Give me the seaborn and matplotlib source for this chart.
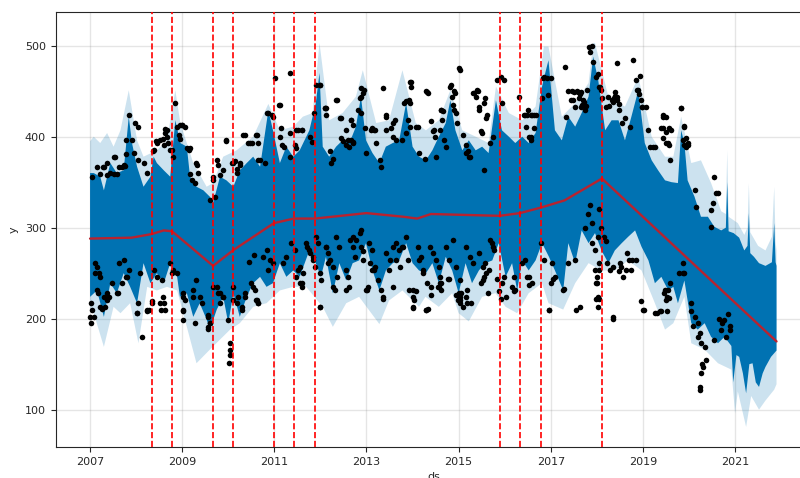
import numpy as np
import pandas as pd
import seaborn as sns
import matplotlib.pyplot as plt

# upper / lower edge of the forecast (yhat)
yhat_hi_ds = [2007.00, 2007.08, 2007.22, 2007.30, 2007.44, 2007.58, 2007.73, 2007.84, 2007.91, 2008.02,
              2008.16, 2008.31, 2008.38, 2008.45, 2008.60, 2008.74, 2008.85, 2008.96,
              2009.10, 2009.17, 2009.31, 2009.46, 2009.60, 2009.67, 2009.82, 2009.96, 2010.11, 2010.25,
              2010.40, 2010.54, 2010.69, 2010.87, 2010.97, 2011.12, 2011.26, 2011.41, 2011.55,
              2011.76, 2011.90, 2011.98, 2012.05, 2012.19, 2012.34, 2012.48, 2012.63, 2012.77, 2012.88,
              2012.99, 2013.13, 2013.28, 2013.42, 2013.57, 2013.71, 2013.86, 2014.00, 2014.14, 2014.29,
              2014.43, 2014.57, 2014.72, 2014.82, 2014.93, 2015.08, 2015.22, 2015.37, 2015.51, 2015.65,
              2015.81, 2015.94, 2016.09, 2016.23, 2016.38, 2016.52, 2016.67, 2016.81, 2016.88, 2016.95,
              2017.09, 2017.24, 2017.38, 2017.53, 2017.67, 2017.82, 2017.92, 2018.03, 2018.18, 2018.32,
              2018.47, 2018.61, 2018.75, 2018.90, 2019.04, 2019.19, 2019.33, 2019.48, 2019.62,
              2019.76, 2019.83, 2019.90, 2019.97, 2020.12, 2020.26, 2020.41,
              2020.55, 2020.70, 2020.80, 2020.83, 2020.86, 2020.97, 2021.09, 2021.20, 2021.27, 2021.30,
              2021.33, 2021.41, 2021.52, 2021.66, 2021.80, 2021.85, 2021.88, 2021.90]
yhat_hi = [360, 360, 356, 341, 371, 360, 363, 422, 393, 367,
           345, 356, 378, 371, 363, 356, 418, 393,
           389, 356, 345, 341, 334, 327, 356, 352, 345, 363,
           371, 378, 367, 429, 407, 371, 389, 378, 385,
           407, 437, 470, 389, 378, 389, 396, 393, 411, 444,
           396, 382, 371, 389, 393, 396, 437, 389, 378, 374,
           385, 400, 415, 440, 407, 385, 396, 385, 389, 382,
           440, 407, 400, 393, 400, 393, 404, 455, 470, 484,
           407, 396, 422, 411, 426, 444, 488, 462, 407, 418,
           418, 396, 422, 451, 393, 374, 363, 352, 350,
           349, 407, 393, 352, 334, 312, 312,
           301, 297, 300, 350, 296, 294, 289, 275, 280, 316,
           272, 268, 261, 258, 262, 305, 262, 258]

yhat_lo_ds = [2007.00, 2007.15, 2007.30, 2007.44, 2007.58, 2007.73, 2007.87, 2008.02, 2008.16, 2008.31,
              2008.45, 2008.60, 2008.74, 2008.89,
              2008.95, 2009.10, 2009.24, 2009.38, 2009.53, 2009.60, 2009.75, 2009.89, 2010.00, 2010.11,
              2010.25, 2010.40, 2010.54, 2010.69, 2010.83, 2010.97, 2011.12, 2011.26, 2011.41, 2011.55,
              2011.76, 2011.90, 2012.01, 2012.12, 2012.27, 2012.41, 2012.56, 2012.70, 2012.84, 2012.99,
              2013.13, 2013.28, 2013.42, 2013.57, 2013.71, 2013.86, 2014.00, 2014.14, 2014.29,
              2014.43, 2014.57, 2014.72, 2014.86, 2015.00, 2015.15, 2015.29, 2015.44, 2015.58, 2015.73,
              2015.87, 2016.02, 2016.16, 2016.27, 2016.38, 2016.52, 2016.67, 2016.81, 2016.96,
              2017.09, 2017.27, 2017.38, 2017.53, 2017.67, 2017.82, 2017.96, 2018.10, 2018.25, 2018.39,
              2018.54, 2018.68, 2018.83, 2018.97, 2019.12, 2019.26, 2019.40, 2019.55, 2019.66,
              2019.76, 2019.90, 2020.05, 2020.19, 2020.34, 2020.48, 2020.63, 2020.77,
              2020.92, 2020.96, 2021.03, 2021.09, 2021.17, 2021.24, 2021.31, 2021.38, 2021.45, 2021.52,
              2021.60, 2021.66, 2021.78, 2021.90]
yhat_lo = [224, 231, 202, 239, 228, 250, 235, 217, 261, 239,
           250, 239, 261, 246,
           224, 228, 202, 217, 199, 188, 210, 224, 195, 228,
           202, 224, 239, 246, 235, 239, 261, 246, 253, 246,
           275, 261, 246, 268, 228, 261, 242, 261, 264, 283,
           253, 231, 253, 261, 264, 283, 261, 253, 250,
           261, 239, 268, 253, 228, 261, 239, 253, 261, 264,
           283, 246, 261, 231, 264, 253, 264, 283, 268,
           253, 231, 283, 261, 297, 283, 294, 275, 261, 275,
           283, 290, 297, 279, 264, 239, 246, 231, 235,
           217, 242, 195, 188, 195, 180, 173, 180,
           170, 130, 160, 158, 140, 118, 150, 151, 130, 125,
           140, 147, 158, 165]

# upper / lower edge of the uncertainty interval
band_hi_ds = [2007.00, 2007.08, 2007.22, 2007.37, 2007.51, 2007.66, 2007.84, 2008.02, 2008.16, 2008.45,
              2008.67, 2008.85, 2008.96,
              2009.24, 2009.53, 2009.67, 2009.89, 2010.18, 2010.54, 2010.87, 2011.12, 2011.41, 2011.62,
              2011.83, 2011.98, 2012.19, 2012.48, 2012.77, 2012.92, 2013.21, 2013.49, 2013.78, 2014.07,
              2014.29, 2014.57, 2014.82, 2015.08, 2015.37, 2015.65, 2015.81, 2016.09, 2016.38, 2016.67,
              2016.85, 2016.95, 2017.24, 2017.53, 2017.82, 2017.92, 2017.96, 2018.25, 2018.61, 2018.90,
              2019.19, 2019.48, 2019.66, 2019.83, 2020.05, 2020.26, 2020.48,
              2020.70, 2020.80, 2020.83, 2020.86, 2021.06, 2021.20, 2021.27, 2021.30, 2021.33, 2021.50,
              2021.66, 2021.80, 2021.85, 2021.88, 2021.90]
band_hi = [395, 400, 393, 404, 389, 407, 451, 396, 378, 385,
           396, 451, 415,
           371, 345, 349, 378, 385, 400, 436, 407, 411, 422,
           426, 503, 418, 426, 444, 473, 415, 418, 473, 415,
           407, 418, 451, 407, 400, 393, 455, 426, 418, 433,
           499, 499, 422, 437, 459, 503, 503, 444, 433, 466,
           400, 378, 378, 422, 371, 374, 349,
           318, 315, 385, 312, 305, 292, 300, 349, 295, 280,
           275, 290, 345, 285, 275]

band_lo_ds = [2007.00, 2007.08, 2007.30, 2007.51, 2007.66, 2007.87, 2008.05, 2008.24, 2008.45, 2008.67,
              2008.89,
              2009.31, 2009.60, 2010.04, 2010.25, 2010.54, 2010.83, 2011.12, 2011.41,
              2011.69, 2012.05, 2012.27, 2012.56, 2012.84, 2013.28, 2013.49, 2013.78, 2014.14,
              2014.28, 2014.57, 2014.86, 2015.00, 2015.22, 2015.51, 2015.80, 2016.02, 2016.27, 2016.52,
              2016.81, 2016.95, 2017.27, 2017.53, 2017.82, 2018.10, 2018.39, 2018.68, 2018.97, 2019.26,
              2019.48, 2019.66, 2019.90, 2020.05, 2020.34, 2020.63,
              2020.92, 2021.00, 2021.06, 2021.24, 2021.35, 2021.52, 2021.66, 2021.85, 2021.90]
band_lo = [210, 206, 169, 213, 206, 217, 173, 235, 231, 235,
           231,
           151, 166, 188, 195, 213, 217, 231, 235,
           235, 213, 191, 217, 224, 194, 220, 231, 213,
           224, 213, 228, 206, 197, 224, 228, 213, 206, 228,
           239, 217, 210, 239, 261, 253, 253, 264, 253, 217,
           188, 195, 224, 173, 166, 151,
           144, 96, 120, 81, 115, 100, 110, 122, 128]

# piecewise linear trend and the changepoints shown as dashed lines
trend_ds = [2007.00, 2007.90, 2008.34, 2008.60, 2008.78, 2009.67, 2010.10, 2010.99, 2011.42, 2011.88,
            2013.00, 2013.80, 2014.10, 2014.40, 2015.89, 2016.33, 2016.78, 2017.30, 2018.11, 2021.90]
trend = [288, 289, 293, 297, 296, 258, 275, 305, 310, 310,
         316, 312, 310, 315, 313, 316, 322, 330, 354, 175]
changepoints = [2008.34, 2008.78, 2009.67, 2010.10, 2010.99, 2011.42, 2011.88,
                2015.89, 2016.33, 2016.78, 2018.11]

# observed points that are visible outside the forecast band
obs_ds = [
    2007.04, 2007.15, 2007.30, 2007.37, 2007.51, 2007.44, 2007.62, 2007.73, 2007.84, 2007.98,
    2008.05, 2007.91, 2007.95, 2008.05, 2008.16, 2008.24, 2008.38, 2008.45, 2008.52, 2008.60,
    2008.63, 2008.67, 2008.78, 2008.85, 2008.81,
    2007.01, 2007.01, 2007.08, 2007.11, 2007.19, 2007.22, 2007.30, 2007.37, 2007.33, 2007.48,
    2007.58, 2007.62, 2007.73, 2007.80, 2007.84, 2008.02, 2008.13, 2008.09, 2008.24, 2008.34,
    2008.38, 2008.45, 2008.56, 2008.60, 2008.63, 2008.74, 2008.78,
    2008.99, 2009.06, 2009.17, 2009.31, 2009.35, 2009.28, 2009.60, 2009.67, 2009.75, 2009.89,
    2009.96, 2010.11, 2010.18, 2010.25, 2010.32, 2010.47, 2010.61, 2010.65, 2010.69, 2010.79,
    2010.87, 2011.01, 2011.12, 2011.12, 2011.16, 2011.34, 2011.34, 2011.44, 2011.48, 2011.52,
    2011.59,
    2009.02, 2009.02, 2009.24, 2009.31, 2009.57, 2009.60, 2009.57, 2009.67, 2009.78, 2009.82,
    2009.89, 2010.00, 2010.03, 2010.03, 2010.03, 2010.02, 2010.11, 2010.22, 2010.29, 2010.36,
    2010.50, 2010.58, 2010.61, 2010.65, 2010.76, 2010.83, 2010.90, 2010.97, 2010.87, 2011.19,
    2011.26, 2011.37, 2011.44, 2011.52, 2011.59,
    2011.87, 2011.98, 2012.12, 2012.34, 2012.45, 2012.66, 2012.56, 2012.59, 2012.70, 2012.88,
    2012.95, 2013.10, 2013.17, 2013.35, 2013.42, 2013.57, 2013.42, 2013.82, 2013.93, 2013.96,
    2013.86, 2013.78, 2014.11, 2014.29,
    2012.09, 2012.35, 2012.42, 2012.45, 2012.49, 2012.56, 2012.63, 2012.67, 2012.71, 2012.20,
    2012.27, 2012.24, 2012.67, 2012.71, 2012.89, 2012.92, 2012.85, 2012.82, 2012.89, 2012.96,
    2013.11, 2013.18, 2013.00, 2013.21, 2013.29, 2013.32, 2013.43, 2013.54, 2013.61, 2013.57,
    2013.65, 2013.94, 2013.97, 2013.86, 2013.94, 2013.90, 2013.94, 2014.08, 2014.15, 2014.26,
    2014.33, 2014.41, 2014.44, 2014.48, 2014.59, 2014.62, 2014.66, 2014.69, 2014.73, 2014.84,
    2014.91, 2014.88, 2014.95, 2015.02, 2015.09, 2015.16, 2015.20, 2015.24, 2015.31, 2015.38,
    2015.42, 2015.45, 2015.49, 2015.56, 2015.60, 2015.67, 2015.74, 2015.56,
    2011.69, 2011.76, 2011.83, 2011.94, 2011.98, 2012.12, 2012.16, 2012.27, 2012.34, 2012.41,
    2012.56, 2012.59, 2012.63, 2012.70, 2012.77, 2012.88, 2012.92, 2013.02, 2013.06, 2013.13,
    2013.17, 2013.35, 2013.49, 2013.57, 2013.64, 2013.71, 2013.78, 2013.93, 2014.00, 2014.00,
    2014.11, 2014.18, 2014.22, 2014.29,
    2011.56, 2011.62, 2011.70, 2011.77, 2011.84, 2011.91, 2011.88, 2011.98, 2012.02, 2011.98,
    2012.13, 2012.17, 2012.20, 2012.27, 2012.35, 2012.31, 2012.56, 2012.64, 2012.71, 2012.74,
    2012.85, 2012.89, 2012.92, 2012.99, 2013.03, 2013.07, 2013.11, 2013.18, 2013.25, 2013.32,
    2013.36, 2013.43, 2013.50, 2013.57, 2013.65, 2013.72, 2013.79, 2013.86, 2013.90, 2014.01,
    2014.04, 2014.08, 2014.15, 2014.22, 2014.33, 2014.37, 2014.44, 2014.51, 2014.59, 2014.62,
    2014.73, 2014.80, 2014.88, 2014.95, 2015.02, 2015.02, 2015.06, 2015.09, 2015.16, 2015.24,
    2015.31, 2015.45, 2015.52, 2015.60, 2015.63, 2015.67, 2015.74,
    2014.32, 2014.61, 2014.64, 2014.46, 2014.50, 2014.82, 2014.86, 2014.93, 2014.90, 2015.00,
    2014.97, 2015.15, 2015.22, 2015.33, 2015.40, 2015.44, 2015.58, 2015.62, 2015.51, 2015.84,
    2015.91, 2015.98, 2015.94, 2016.30, 2016.41, 2016.49, 2016.59, 2016.67, 2016.52, 2016.56,
    2016.85, 2016.92,
    2014.32, 2014.39, 2014.57, 2014.61, 2014.57, 2014.79, 2015.00, 2015.04, 2015.15, 2015.19,
    2015.26, 2015.58, 2015.65, 2015.73, 2015.76, 2015.94, 2016.02, 2015.98, 2016.20, 2016.23,
    2016.38, 2016.45, 2016.52, 2016.59, 2016.78, 2016.85, 2016.96,
    2017.31, 2017.38, 2017.45, 2017.49, 2017.56, 2017.63, 2017.67, 2017.53, 2017.74, 2017.78,
    2017.82, 2017.85, 2017.89, 2017.92, 2017.99, 2018.03, 2018.07, 2018.25, 2018.36, 2018.43,
    2018.39, 2018.47, 2018.54, 2018.43, 2018.61, 2018.72, 2018.79, 2018.86, 2018.93, 2018.90,
    2018.97, 2019.12, 2019.15, 2019.26, 2019.40, 2019.44, 2019.51, 2019.55, 2019.59, 2019.44,
    2017.02, 2017.09, 2017.27, 2017.38, 2017.53, 2017.64, 2017.89, 2017.96, 2018.03, 2017.96,
    2017.99, 2018.03, 2018.03, 2018.28, 2018.36, 2018.50, 2018.57, 2018.65, 2018.75, 2019.01,
    2018.86, 2019.30, 2019.40, 2019.51, 2019.55, 2019.59,
    2017.75, 2017.80, 2017.85, 2017.90, 2018.05, 2018.10, 2018.15, 2018.20, 2010.45, 2010.55,
    2019.83, 2019.90, 2019.94, 2019.98, 2020.55, 2020.59, 2020.63, 2020.52, 2020.48, 2020.48,
    2020.12, 2020.16,
    2019.90, 2019.87, 2020.05, 2020.12, 2020.19, 2020.23, 2020.26, 2020.34, 2020.37, 2020.30,
    2020.23, 2020.23, 2020.55, 2020.70, 2020.77, 2020.81, 2020.88, 2020.65, 2020.72, 2020.85,
    2020.90, 2020.05, 2020.08, 2020.20, 2020.25, 2020.28,
    # more upper points 2016-2019
    2016.43, 2016.50, 2016.57, 2016.64, 2016.46, 2016.64, 2016.57, 2016.82, 2016.83, 2016.93,
    2017.00, 2017.33, 2017.44, 2017.51, 2017.58, 2017.65, 2017.69, 2017.62, 2017.72, 2017.76,
    2017.65, 2018.05, 2018.08, 2018.12, 2018.19, 2018.26, 2018.33, 2018.37, 2018.40, 2018.44,
    2018.48, 2018.88, 2018.92, 2018.95, 2018.99, 2019.06, 2019.21, 2019.43, 2019.50, 2019.43,
    2019.57, 2019.61, 2019.50, 2019.57, 2019.82, 2019.86, 2019.90, 2019.93, 2019.90, 2019.97,
    # more upper points 2007-2012
    2007.79, 2007.79, 2007.54, 2007.51, 2007.22, 2007.29, 2007.36, 2007.58, 2007.69, 2007.76,
    2008.37, 2008.44, 2008.59, 2008.63, 2008.67, 2008.70, 2008.74, 2008.88, 2008.95, 2008.99,
    2008.92, 2008.95, 2009.10, 2009.14, 2009.17, 2009.21, 2009.32, 2009.67, 2009.71, 2009.78,
    2009.82, 2009.96, 2010.07, 2010.14, 2010.18, 2010.25, 2010.36, 2010.43, 2010.51, 2010.62,
    2010.65, 2010.83, 2010.94, 2010.97, 2011.10, 2011.15, 2011.20, 2011.33, 2011.48, 2011.59,
    2011.77, 2011.81, 2011.91, 2011.98, 2012.09, 2012.12,
    # more lower points 2007-2011
    2007.00, 2007.04, 2007.14, 2007.18, 2007.11, 2007.14, 2007.22, 2007.25, 2007.36, 2007.40,
    2007.61, 2007.69, 2007.79, 2008.01, 2008.04, 2008.23, 2008.27, 2008.34, 2008.52, 2008.55,
    2008.59, 2008.81, 2008.88, 2009.02, 2009.06, 2009.01, 2009.02, 2009.24, 2009.28, 2009.38,
    2009.42, 2009.56, 2009.60, 2009.56, 2009.75, 2009.82, 2009.89, 2010.11, 2010.18, 2010.29,
    2010.36, 2010.54, 2010.62, 2010.65, 2011.48, 2011.55, 2011.59,
    # more lower points 2014-2019
    2014.01, 2014.30, 2014.41, 2014.55, 2014.59, 2014.77, 2014.95, 2014.99, 2015.02, 2015.19,
    2015.48, 2015.52, 2015.55, 2015.84, 2015.88, 2015.92, 2016.16, 2016.20, 2016.49, 2016.53,
    2016.97, 2017.00, 2017.04, 2017.29, 2017.54, 2017.98, 2018.05, 2018.01, 2018.01, 2018.05,
    2018.05, 2018.34, 2018.23, 2018.34, 2018.49, 2018.52, 2018.63, 2018.70, 2018.77, 2018.95,
    2019.02, 2019.27, 2019.38, 2019.52, 2019.45, 2019.49, 2019.52, 2019.56, 2019.79, 2019.86,
]
obs_y = [
    356, 367, 367, 371, 378, 360, 367, 369, 424, 415,
    411, 396, 382, 374, 371, 360, 385, 393, 396, 391,
    404, 407, 385, 437, 378,
    217, 195, 202, 261, 250, 246, 224, 228, 213, 239,
    228, 261, 264, 246, 253, 206, 180, 250, 210, 217,
    253, 246, 242, 217, 210, 261, 250,
    413, 411, 387, 371, 360, 349, 330, 356, 374, 363,
    396, 371, 360, 371, 402, 393, 402, 393, 374, 371,
    426, 464, 435, 400, 391, 470, 378, 391, 387, 407,
    407,
    224, 210, 231, 242, 202, 195, 191, 235, 228, 217,
    224, 199, 173, 166, 160, 151, 235, 224, 213, 228,
    239, 231, 220, 217, 268, 275, 264, 261, 253, 261,
    268, 283, 275, 253, 239,
    426, 457, 431, 440, 420, 418, 407, 396, 393, 444,
    451, 407, 407, 453, 422, 415, 407, 437, 440, 460,
    404, 396, 411, 450,
    431, 440, 420, 398, 395, 391, 389, 396, 394, 384,
    376, 371, 418, 413, 453, 448, 442, 429, 426, 409,
    409, 407, 382, 393, 374, 367, 424, 409, 418, 400,
    396, 460, 455, 439, 437, 418, 411, 411, 382, 375,
    448, 417, 406, 400, 407, 429, 428, 396, 389, 457,
    450, 435, 426, 473, 402, 391, 384, 378, 448, 444,
    450, 429, 406, 437, 420, 393, 400, 363,
    283, 275, 268, 283, 213, 279, 261, 235, 290, 279,
    253, 246, 235, 290, 286, 297, 264, 231, 283, 275,
    253, 224, 253, 235, 283, 275, 279, 231, 224, 213,
    279, 268, 253, 210,
    257, 250, 279, 272, 264, 290, 257, 250, 242, 213,
    279, 272, 264, 257, 246, 231, 231, 286, 279, 268,
    294, 279, 274, 231, 235, 261, 253, 257, 242, 231,
    222, 272, 264, 279, 264, 257, 279, 290, 264, 231,
    220, 230, 264, 250, 211, 279, 272, 264, 246, 231,
    279, 264, 286, 257, 242, 220, 228, 213, 279, 268,
    261, 272, 257, 250, 228, 286, 279,
    449, 429, 418, 407, 378, 455, 444, 448, 429, 475,
    415, 382, 378, 448, 451, 433, 442, 424, 404, 462,
    466, 462, 437, 444, 424, 424, 424, 424, 400, 396,
    466, 464,
    239, 235, 257, 239, 235, 244, 228, 217, 224, 231,
    217, 261, 253, 283, 275, 239, 224, 246, 246, 231,
    261, 264, 246, 239, 283, 264, 210,
    477, 450, 450, 440, 450, 447, 435, 433, 429, 451,
    499, 493, 500, 482, 466, 469, 455, 444, 438, 444,
    449, 429, 415, 481, 420, 411, 484, 462, 467, 451,
    433, 407, 389, 389, 409, 422, 405, 393, 374, 398,
    261, 246, 231, 261, 264, 213, 283, 275, 290, 253,
    239, 224, 213, 253, 202, 261, 246, 272, 253, 210,
    264, 206, 208, 220, 231, 239,
    300, 315, 325, 305, 320, 300, 290, 285, 262, 270,
    432, 412, 398, 391, 356, 338, 338, 327, 319, 301,
    341, 323,
    250, 261, 217, 202, 195, 184, 173, 169, 155, 147,
    125, 122, 177, 188, 199, 180, 188, 200, 195, 205,
    192, 208, 192, 180, 140, 150,
    # more upper points 2016-2019
    424, 429, 424, 424, 411, 409, 400, 442, 464, 446,
    464, 422, 440, 449, 449, 449, 440, 443, 438, 434,
    433, 455, 451, 443, 433, 434, 440, 442, 445, 440,
    436, 451, 447, 440, 433, 433, 389, 424, 422, 409,
    409, 407, 393, 391, 431, 396, 391, 389, 411, 393,
    # more upper points 2007-2012
    396, 381, 378, 359, 359, 367, 358, 359, 367, 368,
    384, 395, 397, 408, 400, 393, 385, 411, 413, 413,
    402, 397, 387, 385, 359, 352, 369, 352, 334, 369,
    358, 395, 371, 373, 364, 369, 402, 393, 393, 402,
    374, 426, 424, 422, 435, 409, 389, 404, 407, 407,
    400, 394, 457, 457, 431, 424,
    # more lower points 2007-2011
    202, 210, 232, 228, 250, 257, 213, 211, 221, 224,
    228, 239, 246, 206, 217, 208, 210, 219, 217, 210,
    224, 254, 250, 228, 221, 208, 199, 224, 195, 224,
    217, 204, 195, 189, 235, 228, 224, 221, 217, 210,
    224, 235, 221, 217, 246, 239, 235,
    # more lower points 2014-2019
    212, 210, 226, 235, 239, 244, 226, 221, 224, 217,
    239, 242, 246, 244, 230, 222, 235, 230, 246, 237,
    210, 239, 244, 233, 210, 222, 222, 239, 246, 254,
    261, 200, 261, 257, 252, 257, 254, 265, 265, 219,
    210, 206, 208, 208, 228, 232, 224, 223, 250, 250,
]

year_ticks = [2007, 2009, 2011, 2013, 2015, 2017, 2019, 2021]
y_ticks = [100, 200, 300, 400, 500]


def band_polygon(top_x, top_y, bot_x, bot_y):
    xs = np.concatenate([top_x, bot_x[::-1]])
    ys = np.concatenate([top_y, bot_y[::-1]])
    return xs, ys


def display_plot():
    sns.set_style("ticks")
    plt.rcParams["font.family"] = ["DejaVu Sans"]

    fig = plt.figure(figsize=(8, 4.78), dpi=100)
    # the reference is cut off on the right, so the axes run past the figure edge
    ax = fig.add_axes([0.0694, 0.0649, 0.9456, 0.910])

    xs, ys = band_polygon(band_hi_ds, band_hi, band_lo_ds, band_lo)
    ax.fill(xs, ys, color="#0072B2", alpha=0.2, lw=0, zorder=1)
    xs, ys = band_polygon(yhat_hi_ds, yhat_hi, yhat_lo_ds, yhat_lo)
    ax.fill(xs, ys, color="#0072B2", lw=0, zorder=2)

    df_obs = pd.DataFrame({"ds": obs_ds, "y": obs_y})
    sns.scatterplot(data=df_obs, x="ds", y="y", color="black", s=16,
                    linewidth=0, ax=ax, zorder=3)

    df_trend = pd.DataFrame({"ds": trend_ds, "trend": trend})
    sns.lineplot(data=df_trend, x="ds", y="trend", color="#b8232f", lw=1.7,
                 estimator=None, sort=False, ax=ax, zorder=4)

    for cp in changepoints:
        ax.axvline(cp, color="red", ls="--", lw=1.2, zorder=5)

    ax.grid(True, which="major", color="gray", ls="-", lw=1, alpha=0.2)
    ax.set_xlim(2006.25, 2022.67)
    ax.set_ylim(59, 537)
    ax.set_xticks(year_ticks)
    ax.set_xticklabels([str(t) for t in year_ticks])
    ax.set_yticks(y_ticks)
    ax.tick_params(labelsize=8)
    # "ds" sits partly below the bottom edge, as in the reference
    ax.set_xlabel("ds", fontsize=8)
    ax.set_ylabel("y", fontsize=8)

    fig.savefig("out.png", dpi=100)


if __name__ == '__main__':
    display_plot()
